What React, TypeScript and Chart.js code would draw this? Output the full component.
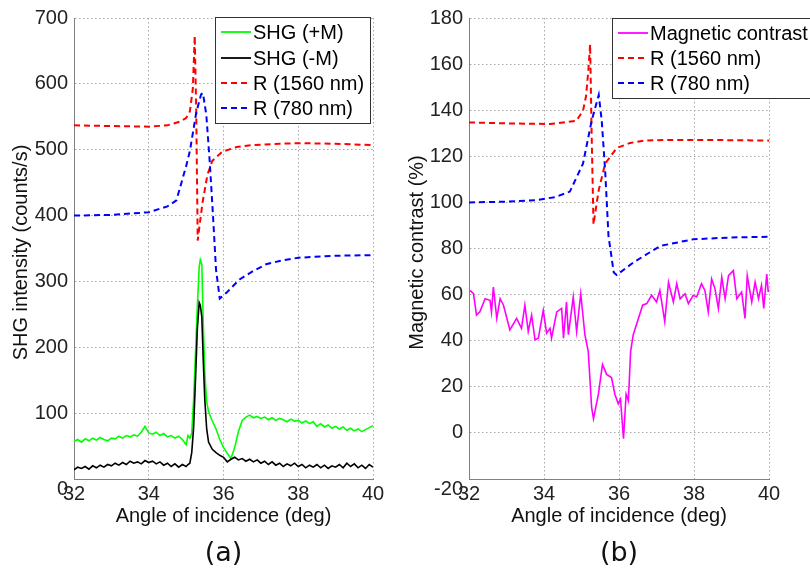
import React, { useEffect, useRef } from "react";
import { Chart, registerables } from "chart.js";
Chart.register(...registerables);

// ---------- Panel (a) data ----------
const shgAngles = [
  32.0, 32.1, 32.2, 32.3, 32.4, 32.5, 32.6, 32.7, 32.8, 32.9,
  33.0, 33.1, 33.2, 33.3, 33.4, 33.5, 33.6, 33.7, 33.8, 33.9,
  34.0, 34.1, 34.2, 34.3, 34.4, 34.5, 34.6, 34.7, 34.8, 34.9,
  35.0, 35.05, 35.1, 35.15, 35.2, 35.25, 35.3, 35.35, 35.38, 35.42, 35.46, 35.5, 35.55, 35.6, 35.7, 35.8, 35.9,
  36.0, 36.1, 36.2, 36.3, 36.4, 36.5, 36.6, 36.7, 36.8, 36.9,
  37.0, 37.1, 37.2, 37.3, 37.4, 37.5, 37.6, 37.7, 37.8, 37.9,
  38.0, 38.1, 38.2, 38.3, 38.4, 38.5, 38.6, 38.7, 38.8, 38.9,
  39.0, 39.1, 39.2, 39.3, 39.4, 39.5, 39.6, 39.7, 39.8, 39.9,
  40.0,
];
const shgPlus = [
  57, 60, 56, 61, 58, 62, 59, 63, 60, 58,
  62, 61, 65, 62, 66, 64, 67, 65, 71, 80,
  70, 68, 71, 66, 69, 64, 66, 62, 65, 60,
  52, 66, 62, 70, 120, 190, 262, 322, 333, 326, 232, 160, 118, 102, 88, 76, 60,
  48, 39, 31, 48, 72, 89, 94, 97, 93, 95,
  92, 94, 90, 93, 89, 92, 90, 87, 91, 88,
  89, 85, 88, 84, 87, 80, 84, 79, 82, 77,
  80, 76, 79, 74, 77, 73, 76, 72, 75, 78,
  81,
];
const shgMinus = [
  14, 18, 16, 19, 15, 20, 17, 21, 18, 22,
  20, 24, 21, 25, 22, 27, 24, 26, 23, 28,
  25, 27, 23, 26, 21, 24, 19, 23, 18, 22,
  19, 22, 24, 40, 78, 150, 228, 268, 264, 246, 178, 120, 76, 56, 45, 40, 36,
  33, 26, 30, 33, 29, 31, 27, 30, 26, 29,
  24, 27, 22, 26, 21, 24, 19, 23, 20, 24,
  19, 22, 17, 21, 18, 22, 17, 21, 16, 20,
  18, 22, 17, 24, 19, 23, 17, 21, 16, 22,
  18,
];
const r1560AnglesA = [32, 33, 34, 34.5, 34.8, 35.0, 35.1, 35.18, 35.23, 35.27, 35.31, 35.36, 35.44, 35.57, 35.7, 35.97, 36.35, 36.77, 37.5, 38, 39, 40];
const r1560A = [537, 536, 535, 537, 542, 548, 558, 593, 673, 560, 362, 385, 420, 462, 483, 497, 504, 507, 509, 510, 509, 507];
const r780AnglesA = [32, 33, 34, 34.5, 34.74, 35.0, 35.1, 35.27, 35.4, 35.45, 35.54, 35.63, 35.72, 35.8, 35.9, 36.1, 36.43, 36.8, 37.14, 37.5, 38, 39, 40];
const r780A = [400, 401, 405, 414, 423, 475, 498, 556, 584, 586, 553, 483, 399, 318, 274, 284, 303, 316, 326, 331, 336, 339, 340];

// ---------- Panel (b) data ----------
const r1560AnglesB = [32, 33, 34.16, 34.86, 35.04, 35.12, 35.18, 35.23, 35.27, 35.32, 35.38, 35.46, 35.63, 35.94, 36.3, 36.65, 37.3, 37.98, 39, 40];
const r1560B = [134.7, 134.3, 134, 135.4, 139.7, 146, 156.8, 168.6, 130, 90.4, 97, 105.4, 116.8, 123.6, 125.8, 126.8, 127.1, 127.1, 127, 126.8];
const r780AnglesB = [32, 33, 33.8, 34.3, 34.69, 35.04, 35.27, 35.46, 35.54, 35.63, 35.72, 35.86, 35.94, 36.39, 37.1, 37.98, 39, 40];
const r780B = [100, 100.3, 101, 102.3, 104.7, 116.8, 135.4, 146.6, 135.4, 114, 85.4, 69.6, 68.5, 74, 81.1, 84, 84.8, 85.1];
const mcAngles = [
  32.03, 32.12, 32.2, 32.29, 32.43, 32.56, 32.6, 32.65, 32.74, 32.83, 32.92, 33.09, 33.27, 33.4, 33.49, 33.58, 33.67, 33.76, 33.85, 33.98,
  34.07, 34.16, 34.2, 34.34, 34.47, 34.52, 34.6, 34.65, 34.78, 34.87, 34.98, 35.09, 35.18, 35.27, 35.32, 35.45, 35.56, 35.67, 35.8, 35.89,
  35.98, 36.04, 36.12, 36.19, 36.25, 36.31, 36.38, 36.52, 36.63, 36.74, 36.87, 37.0, 37.09, 37.22, 37.32, 37.45, 37.54, 37.63, 37.76, 37.85,
  37.98, 38.07, 38.2, 38.29, 38.38, 38.47, 38.56, 38.65, 38.74, 38.83, 38.92, 39.05, 39.14, 39.27, 39.36, 39.42, 39.54, 39.63, 39.72, 39.8,
  39.86, 39.94, 39.98,
];
const mcValues = [
  61.8, 60.4, 51.1, 52.5, 58.2, 57.5, 52.5, 63.3, 49.7, 58.2, 55.4, 44.7, 49.7, 45.4, 55.4, 44, 51.1, 40.4, 41.1, 53.2,
  43.3, 45.4, 41.1, 52.5, 54, 41.1, 56.8, 42.6, 59, 44, 60.4, 42.6, 35.4, 11.1, 6.1, 16.8, 29.7, 25.4, 24, 16.8,
  12.6, 14.7, -2.5, 16.8, 14, 35.4, 42.6, 49.7, 55.4, 56.1, 59.7, 56.8, 61.8, 48.3, 65.4, 56.8, 64.7, 58.2, 60.4, 56.1,
  59.7, 59, 64.7, 61.8, 52.5, 66.8, 62.5, 54, 67.5, 58.2, 68.2, 70.4, 58.2, 61.1, 49.7, 68.2, 56.8, 65.4, 58.2, 64,
  54, 68.9, 61.1,
];

const xTicks = [32, 34, 36, 38, 40];
const yTicksA = [0, 100, 200, 300, 400, 500, 600, 700];
const yTicksB = [-20, 0, 20, 40, 60, 80, 100, 120, 140, 160, 180];

const legendA = [
  { label: "SHG (+M)", color: "#00ff00", dash: [] as number[] },
  { label: "SHG (-M)", color: "#000000", dash: [] as number[] },
  { label: "R (1560 nm)", color: "#ff0000", dash: [6, 4] },
  { label: "R (780 nm)", color: "#0000ff", dash: [6, 4] },
];
const legendB = [
  { label: "Magnetic contrast", color: "#ff00ff", dash: [] as number[] },
  { label: "R (1560 nm)", color: "#ff0000", dash: [6, 4] },
  { label: "R (780 nm)", color: "#0000ff", dash: [6, 4] },
];

const FONT = "'Liberation Sans', Arial, Helvetica, sans-serif";
const pts = (xs: number[], ys: number[]) => xs.map((x, i) => ({ x, y: ys[i] }));

type Spec = {
  datasets: any[];
  yTicks: number[];
  yTitle: string;
  yTitleX: number;
  yWidth: number;
  padRight: number;
  legend: { label: string; color: string; dash: number[] }[];
  legendBox: { x: number; y: number; w: number; h: number; rows: number[] };
  panel: string;
};

function build(canvas: HTMLCanvasElement, spec: Spec) {
  const yMin = spec.yTicks[0];
  const yMax = spec.yTicks[spec.yTicks.length - 1];
  const decor = {
    id: "decor",
    afterDraw(chart: any) {
      const ctx = chart.ctx as CanvasRenderingContext2D;
      const a = chart.chartArea;
      ctx.save();
      // bottom y tick label (drawn slightly below the axis like the reference)
      ctx.fillStyle = "#222";
      ctx.font = `20px ${FONT}`;
      ctx.textAlign = "right";
      ctx.textBaseline = "middle";
      ctx.fillText(String(yMin), a.left - 6, a.bottom + 10);
      // y title
      ctx.save();
      ctx.translate(spec.yTitleX, (a.top + a.bottom) / 2 + 4);
      ctx.rotate(-Math.PI / 2);
      ctx.textAlign = "center";
      ctx.textBaseline = "alphabetic";
      ctx.fillStyle = "#111";
      ctx.fillText(spec.yTitle, 0, 0);
      ctx.restore();
      // x title
      ctx.textAlign = "center";
      ctx.textBaseline = "alphabetic";
      ctx.fillStyle = "#111";
      ctx.fillText("Angle of incidence (deg)", (a.left + a.right) / 2, 522);
      // panel label
      ctx.font = `27px 'DejaVu Sans', sans-serif`;
      ctx.fillText(spec.panel, (a.left + a.right) / 2, 561);
      // legend
      const b = spec.legendBox;
      ctx.fillStyle = "#ffffff";
      ctx.fillRect(b.x, b.y, b.w, b.h);
      ctx.strokeStyle = "#333";
      ctx.lineWidth = 1;
      ctx.strokeRect(b.x + 0.5, b.y + 0.5, b.w, b.h);
      ctx.font = `20px ${FONT}`;
      ctx.textAlign = "left";
      ctx.textBaseline = "middle";
      spec.legend.forEach((it, i) => {
        const yy = b.rows[i];
        ctx.strokeStyle = it.color;
        ctx.lineWidth = 1.8;
        ctx.setLineDash(it.dash);
        ctx.beginPath();
        ctx.moveTo(b.x + 6, yy);
        ctx.lineTo(b.x + 36, yy);
        ctx.stroke();
        ctx.setLineDash([]);
        ctx.fillStyle = "#000";
        ctx.fillText(it.label, b.x + 38, yy + 1);
      });
      ctx.restore();
    },
  };

  return new Chart(canvas, {
    type: "line",
    data: { datasets: spec.datasets },
    options: {
      responsive: false,
      animation: false,
      events: [],
      layout: { padding: { left: 0, top: 13, right: spec.padRight, bottom: 0 } },
      plugins: { legend: { display: false }, tooltip: { enabled: false } },
      elements: { point: { radius: 0 }, line: { tension: 0 } },
      scales: {
        x: {
          type: "linear",
          min: 32,
          max: 40,
          afterBuildTicks: (s: any) => { s.ticks = xTicks.map((v) => ({ value: v })); },
          afterFit: (s: any) => { s.height = 99; },
          ticks: { font: { family: FONT, size: 20 }, color: "#222", padding: 3, maxRotation: 0 },
          grid: { color: "#a8a8a8", lineWidth: 1, drawTicks: false },
          border: { display: true, color: "#808080", width: 1, dash: [1.5, 2.5] },
        },
        y: {
          type: "linear",
          min: yMin,
          max: yMax,
          afterBuildTicks: (s: any) => { s.ticks = spec.yTicks.map((v) => ({ value: v })); },
          afterFit: (s: any) => { s.width = spec.yWidth; },
          ticks: {
            font: { family: FONT, size: 20 },
            color: "#222",
            padding: 6,
            callback: (v: any) => (v === yMin ? "" : String(v)),
          },
          grid: { color: "#a8a8a8", lineWidth: 1, drawTicks: false },
          border: { display: true, color: "#808080", width: 1, dash: [1.5, 2.5] },
        },
      },
    },
    plugins: [decor],
  } as any);
}

export default function App() {
  const refA = useRef<HTMLCanvasElement>(null);
  const refB = useRef<HTMLCanvasElement>(null);
  useEffect(() => {
    const ca = build(refA.current!, {
      datasets: [
        { data: pts(r780AnglesA, r780A), borderColor: "#0000ff", borderWidth: 2, borderDash: [6, 4] },
        { data: pts(r1560AnglesA, r1560A), borderColor: "#ff0000", borderWidth: 2, borderDash: [6, 4] },
        { data: pts(shgAngles, shgMinus), borderColor: "#000000", borderWidth: 1.6 },
        { data: pts(shgAngles, shgPlus), borderColor: "#00ff00", borderWidth: 1.6 },
      ],
      yTicks: yTicksA,
      yTitle: "SHG intensity (counts/s)",
      yTitleX: 27,
      yWidth: 74,
      padRight: 32,
      legend: legendA,
      legendBox: { x: 215, y: 17, w: 155, h: 106, rows: [32, 58, 83, 108] },
      panel: "(a)",
    });
    const cb = build(refB.current!, {
      datasets: [
        { data: pts(r780AnglesB, r780B), borderColor: "#0000ff", borderWidth: 2, borderDash: [6, 4] },
        { data: pts(r1560AnglesB, r1560B), borderColor: "#ff0000", borderWidth: 2, borderDash: [6, 4] },
        { data: pts(mcAngles, mcValues), borderColor: "#ff00ff", borderWidth: 1.6 },
      ],
      yTicks: yTicksB,
      yTitle: "Magnetic contrast (%)",
      yTitleX: 18,
      yWidth: 64,
      padRight: 41,
      legend: legendB,
      legendBox: { x: 207, y: 18, w: 220, h: 80, rows: [33, 58, 83] },
      panel: "(b)",
    });
    return () => { ca.destroy(); cb.destroy(); };
  }, []);
  return (
    <div style={{ position: "absolute", left: 0, top: 0, width: 810, height: 578, background: "#fff", overflow: "hidden" }}>
      <canvas ref={refA} width={405} height={578} style={{ position: "absolute", left: 0, top: 0 }} />
      <canvas ref={refB} width={405} height={578} style={{ position: "absolute", left: 405, top: 0 }} />
    </div>
  );
}
